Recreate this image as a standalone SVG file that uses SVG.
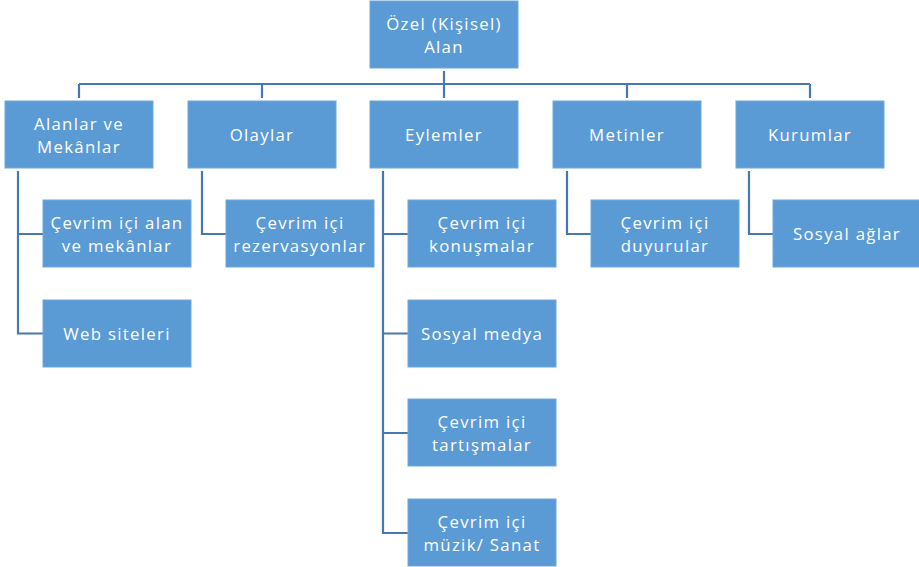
<svg xmlns="http://www.w3.org/2000/svg" width="919" height="567" viewBox="0 0 919 567">
<style>
.box{fill:#5b9bd5;stroke:#6fa7dc;stroke-width:1}
.t{fill:#ffffff;font-family:"Open Sans","Noto Sans",sans-serif;font-size:16.8px;letter-spacing:1.3px;text-anchor:middle}
.c{fill:none;stroke:#4878b0;stroke-width:2.2;stroke-linejoin:miter}
</style>
<rect width="919" height="567" fill="#ffffff"/>
<g id="connectors">
<path class="c" d="M444,71 V98 M79,84 H810 M79,84 V98 M262,84 V98 M627,84 V98 M810,84 V98"/>
<path class="c" d="M18,171 V333.5 H43 M18,234 H43"/>
<path class="c" d="M202,171 V234 H226"/>
<path class="c" d="M383,171 V533 H408 M383,234 H408 M383,333.5 H408 M383,433 H408"/>
<path class="c" d="M567,171 V234 H591"/>
<path class="c" d="M749,171 V234 H773"/>
</g>
<g id="root"><rect class="box" x="370" y="1" width="148" height="67"/><text class="t" x="444" y="30">Özel (Kişisel)</text><text class="t" x="444" y="53">Alan</text></g>
<g id="alanlar"><rect class="box" x="5" y="101" width="148" height="67"/><text class="t" x="79" y="129.5">Alanlar ve</text><text class="t" x="79" y="152.5">Mekânlar</text></g>
<g id="olaylar"><rect class="box" x="188" y="101" width="148" height="67"/><text class="t" x="262" y="140.5">Olaylar</text></g>
<g id="eylemler"><rect class="box" x="370" y="101" width="148" height="67"/><text class="t" x="444" y="140.5">Eylemler</text></g>
<g id="metinler"><rect class="box" x="553" y="101" width="148" height="67"/><text class="t" x="627" y="140.5">Metinler</text></g>
<g id="kurumlar"><rect class="box" x="736" y="101" width="148" height="67"/><text class="t" x="810" y="140.5">Kurumlar</text></g>
<g id="cevrim-alan"><rect class="box" x="43" y="200" width="148" height="67"/><text class="t" x="117" y="228.5">Çevrim içi alan</text><text class="t" x="117" y="251.5">ve mekânlar</text></g>
<g id="web-siteleri"><rect class="box" x="43" y="300" width="148" height="67"/><text class="t" x="117" y="339.5">Web siteleri</text></g>
<g id="rezervasyonlar"><rect class="box" x="226" y="200" width="148" height="67"/><text class="t" x="300" y="228.5">Çevrim içi</text><text class="t" x="300" y="251.5">rezervasyonlar</text></g>
<g id="konusmalar"><rect class="box" x="408" y="200" width="148" height="67"/><text class="t" x="482" y="228.5">Çevrim içi</text><text class="t" x="482" y="251.5">konuşmalar</text></g>
<g id="sosyal-medya"><rect class="box" x="408" y="300" width="148" height="67"/><text class="t" x="482" y="339.5">Sosyal medya</text></g>
<g id="tartismalar"><rect class="box" x="408" y="399" width="148" height="67"/><text class="t" x="482" y="427.5">Çevrim içi</text><text class="t" x="482" y="450.5">tartışmalar</text></g>
<g id="muzik"><rect class="box" x="408" y="499" width="148" height="67"/><text class="t" x="482" y="527.5">Çevrim içi</text><text class="t" x="482" y="550.5">müzik/ Sanat</text></g>
<g id="duyurular"><rect class="box" x="591" y="200" width="148" height="67"/><text class="t" x="665" y="228.5">Çevrim içi</text><text class="t" x="665" y="251.5">duyurular</text></g>
<g id="sosyal-aglar"><rect class="box" x="773" y="200" width="148" height="67"/><text class="t" x="847" y="239.5">Sosyal ağlar</text></g>
</svg>
